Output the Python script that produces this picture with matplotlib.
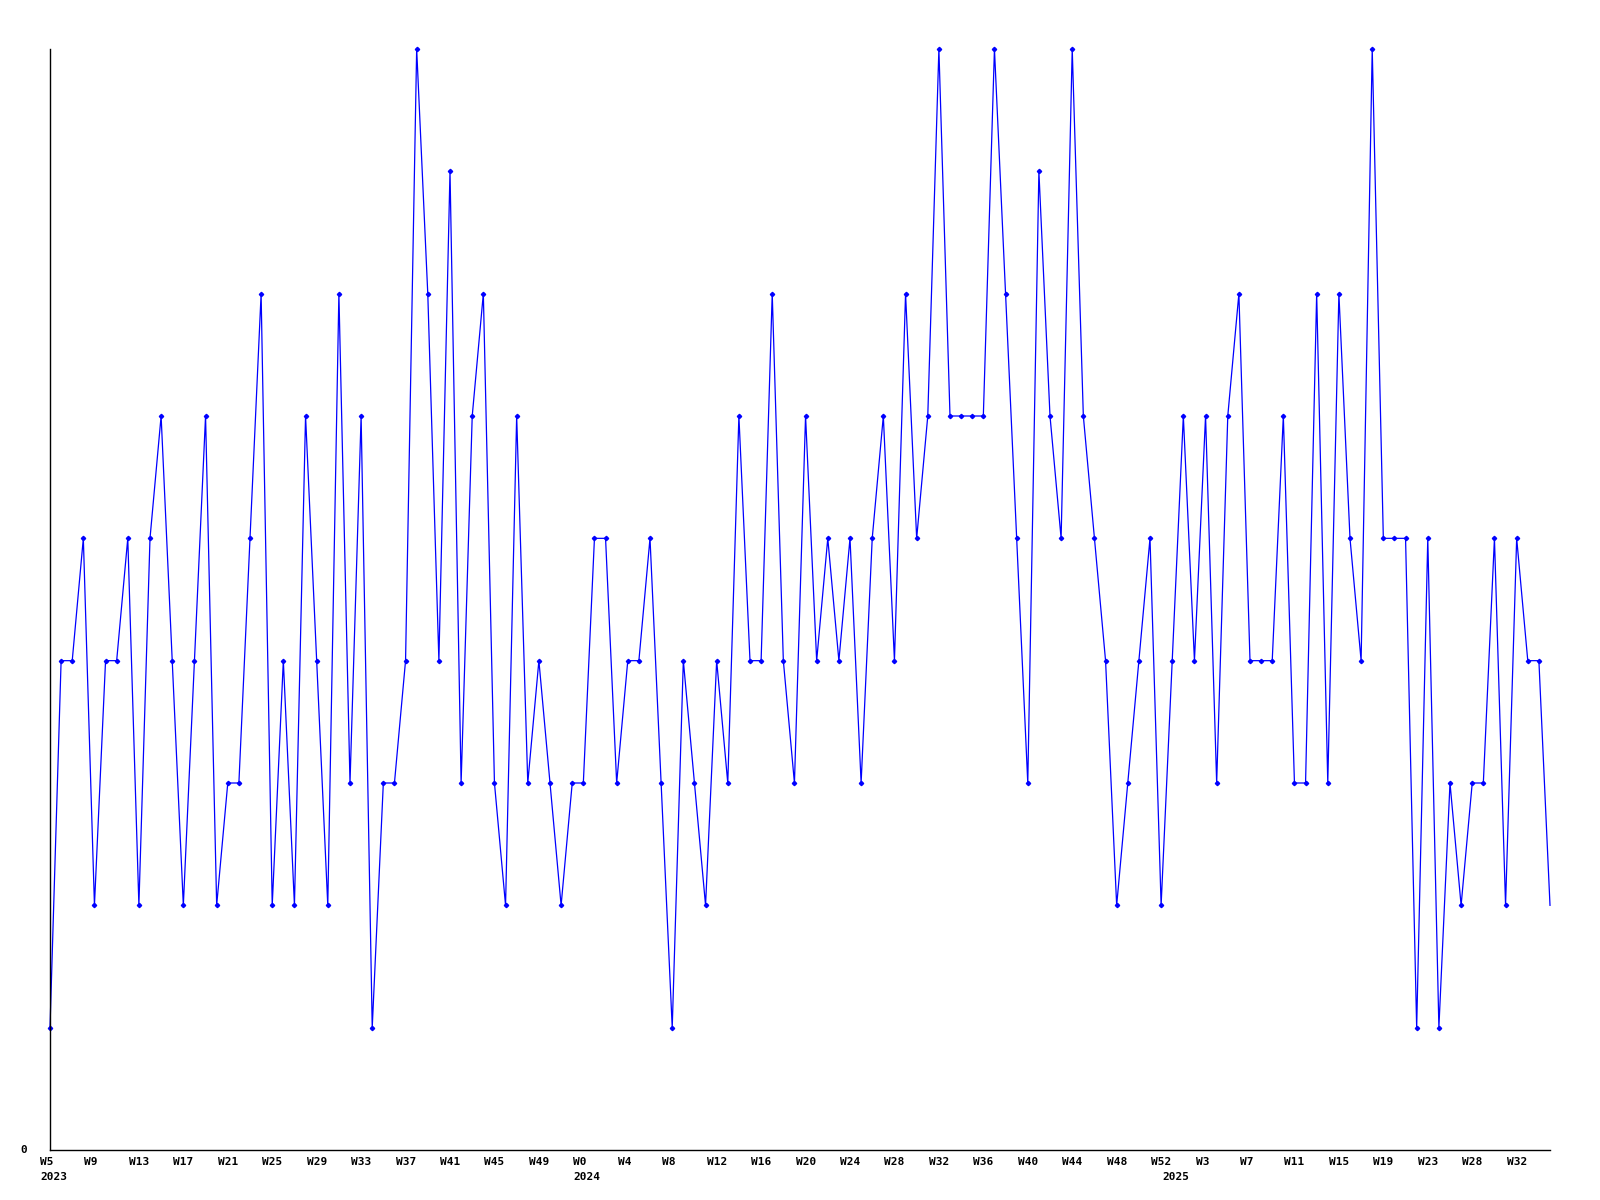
import matplotlib
matplotlib.use("Agg")
import matplotlib.pyplot as plt
import matplotlib.transforms as mtransforms

# weekly counts, 2023 W5 .. 2025 W34
values = [
    1, 4, 4, 5, 2, 4, 4, 5, 2, 5, 6, 4, 2, 4, 6, 2, 3, 3, 5, 7,
    2, 4, 2, 6, 4, 2, 7, 3, 6, 1, 3, 3, 4, 9, 7, 4, 8, 3, 6, 7,
    3, 2, 6, 3, 4, 3, 2, 3, 3, 5, 5, 3, 4, 4, 5, 3, 1, 4, 3, 2,
    4, 3, 6, 4, 4, 7, 4, 3, 6, 4, 5, 4, 5, 3, 5, 6, 4, 7, 5, 6,
    9, 6, 6, 6, 6, 9, 7, 5, 3, 8, 6, 5, 9, 6, 5, 4, 2, 3, 4, 5,
    2, 4, 6, 4, 6, 3, 6, 7, 4, 4, 4, 6, 3, 3, 7, 3, 7, 5, 4, 9,
    5, 5, 5, 1, 5, 1, 3, 2, 3, 3, 5, 2, 5, 4, 4, 2,
]
week_labels = [
    "W5", "W9", "W13", "W17", "W21", "W25", "W29", "W33", "W37", "W41",
    "W45", "W49", "W0", "W4", "W8", "W12", "W16", "W20", "W24", "W28",
    "W32", "W36", "W40", "W44", "W48", "W52", "W3", "W7", "W11", "W15",
    "W19", "W23", "W28", "W32",
]
year_labels = ["2023", "2024", "2025"]
year_pos = [0, 48, 101]

x = list(range(len(values)))

fig = plt.figure(figsize=(16, 12), dpi=100)
ax = fig.add_axes([50 / 1600, 50 / 1200, 1500 / 1600, 1101 / 1200])

ax.plot(x, values, color="#0000ff", linewidth=0.9, marker="D",
        markersize=2.2, markevery=slice(0, len(values) - 1), clip_on=False)

ax.set_xlim(0, len(values) - 1)
ax.set_ylim(0, 9)
for side in ["top", "right"]:
    ax.spines[side].set_visible(False)
for side in ["left", "bottom"]:
    ax.spines[side].set_linewidth(1.0)
ax.set_xticks([])
ax.set_yticks([])

font = dict(family="DejaVu Sans Mono", fontweight="bold", fontsize=8, color="black")
shift = mtransforms.ScaledTranslation(-10 / 100, 0, fig.dpi_scale_trans)
trans = mtransforms.blended_transform_factory(ax.transData, fig.transFigure) + shift

for i, lab in enumerate(week_labels):
    ax.text(i * 4, 1 - 1162 / 1200, lab, transform=trans, ha="left", va="center", **font)
for p, lab in zip(year_pos, year_labels):
    ax.text(p, 1 - 1177 / 1200, lab, transform=trans, ha="left", va="center", **font)

fig.text(20 / 1600, 1 - 1150 / 1200, "0", ha="left", va="center", **font)

fig.savefig("out.png", dpi=100, facecolor="white")
